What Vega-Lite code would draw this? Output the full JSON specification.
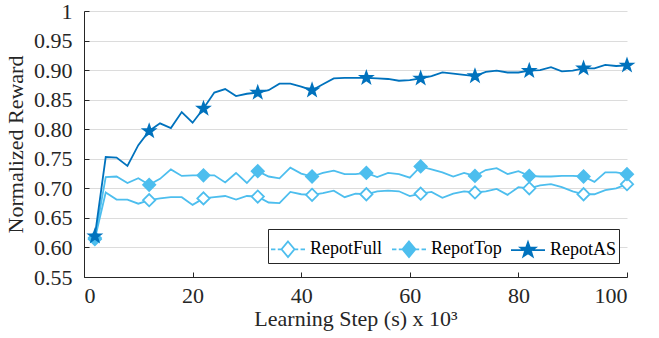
{
  "$schema": "https://vega.github.io/schema/vega-lite/v6.json",
  "width": 543,
  "height": 266,
  "autosize": "none",
  "padding": {"left": 84, "top": 11, "right": 32, "bottom": 61},
  "background": "white",
  "config": {
    "font": "Liberation Serif",
    "view": {"stroke": null},
    "axis": {
      "labelFont": "Liberation Serif",
      "titleFont": "Liberation Serif",
      "labelFontSize": 22,
      "titleFontSize": 22,
      "titleFontWeight": "normal",
      "labelColor": "#262626",
      "titleColor": "#262626",
      "domainColor": "#262626",
      "tickColor": "#262626",
      "domainWidth": 1,
      "tickWidth": 1
    }
  },
  "data": {
    "values": [
      {"x": 2, "RepotFull": 0.614, "RepotTop": 0.616, "RepotAS": 0.619},
      {"x": 4, "RepotFull": 0.693, "RepotTop": 0.719, "RepotAS": 0.753},
      {"x": 6, "RepotFull": 0.681, "RepotTop": 0.720, "RepotAS": 0.752},
      {"x": 8, "RepotFull": 0.681, "RepotTop": 0.709, "RepotAS": 0.738},
      {"x": 10, "RepotFull": 0.674, "RepotTop": 0.717, "RepotAS": 0.773},
      {"x": 12, "RepotFull": 0.680, "RepotTop": 0.706, "RepotAS": 0.797},
      {"x": 14, "RepotFull": 0.683, "RepotTop": 0.716, "RepotAS": 0.810},
      {"x": 16, "RepotFull": 0.685, "RepotTop": 0.732, "RepotAS": 0.802},
      {"x": 18, "RepotFull": 0.685, "RepotTop": 0.721, "RepotAS": 0.829},
      {"x": 20, "RepotFull": 0.672, "RepotTop": 0.722, "RepotAS": 0.811},
      {"x": 22, "RepotFull": 0.683, "RepotTop": 0.722, "RepotAS": 0.835},
      {"x": 24, "RepotFull": 0.685, "RepotTop": 0.722, "RepotAS": 0.862},
      {"x": 26, "RepotFull": 0.687, "RepotTop": 0.710, "RepotAS": 0.868},
      {"x": 28, "RepotFull": 0.681, "RepotTop": 0.726, "RepotAS": 0.856},
      {"x": 30, "RepotFull": 0.687, "RepotTop": 0.709, "RepotAS": 0.860},
      {"x": 32, "RepotFull": 0.686, "RepotTop": 0.729, "RepotAS": 0.862},
      {"x": 34, "RepotFull": 0.676, "RepotTop": 0.720, "RepotAS": 0.866},
      {"x": 36, "RepotFull": 0.675, "RepotTop": 0.717, "RepotAS": 0.877},
      {"x": 38, "RepotFull": 0.694, "RepotTop": 0.735, "RepotAS": 0.877},
      {"x": 40, "RepotFull": 0.690, "RepotTop": 0.725, "RepotAS": 0.872},
      {"x": 42, "RepotFull": 0.689, "RepotTop": 0.720, "RepotAS": 0.866},
      {"x": 44, "RepotFull": 0.692, "RepotTop": 0.726, "RepotAS": 0.876},
      {"x": 46, "RepotFull": 0.696, "RepotTop": 0.730, "RepotAS": 0.886},
      {"x": 48, "RepotFull": 0.685, "RepotTop": 0.724, "RepotAS": 0.887},
      {"x": 50, "RepotFull": 0.691, "RepotTop": 0.724, "RepotAS": 0.887},
      {"x": 52, "RepotFull": 0.690, "RepotTop": 0.726, "RepotAS": 0.887},
      {"x": 54, "RepotFull": 0.695, "RepotTop": 0.719, "RepotAS": 0.886},
      {"x": 56, "RepotFull": 0.696, "RepotTop": 0.726, "RepotAS": 0.885},
      {"x": 58, "RepotFull": 0.695, "RepotTop": 0.724, "RepotAS": 0.882},
      {"x": 60, "RepotFull": 0.687, "RepotTop": 0.718, "RepotAS": 0.883},
      {"x": 62, "RepotFull": 0.691, "RepotTop": 0.737, "RepotAS": 0.886},
      {"x": 64, "RepotFull": 0.694, "RepotTop": 0.732, "RepotAS": 0.890},
      {"x": 66, "RepotFull": 0.684, "RepotTop": 0.727, "RepotAS": 0.896},
      {"x": 68, "RepotFull": 0.691, "RepotTop": 0.720, "RepotAS": 0.894},
      {"x": 70, "RepotFull": 0.695, "RepotTop": 0.726, "RepotAS": 0.892},
      {"x": 72, "RepotFull": 0.693, "RepotTop": 0.721, "RepotAS": 0.890},
      {"x": 74, "RepotFull": 0.695, "RepotTop": 0.731, "RepotAS": 0.897},
      {"x": 76, "RepotFull": 0.699, "RepotTop": 0.734, "RepotAS": 0.899},
      {"x": 78, "RepotFull": 0.689, "RepotTop": 0.724, "RepotAS": 0.896},
      {"x": 80, "RepotFull": 0.702, "RepotTop": 0.729, "RepotAS": 0.896},
      {"x": 82, "RepotFull": 0.700, "RepotTop": 0.721, "RepotAS": 0.899},
      {"x": 84, "RepotFull": 0.705, "RepotTop": 0.720, "RepotAS": 0.900},
      {"x": 86, "RepotFull": 0.707, "RepotTop": 0.720, "RepotAS": 0.905},
      {"x": 88, "RepotFull": 0.702, "RepotTop": 0.721, "RepotAS": 0.898},
      {"x": 90, "RepotFull": 0.695, "RepotTop": 0.721, "RepotAS": 0.899},
      {"x": 92, "RepotFull": 0.690, "RepotTop": 0.720, "RepotAS": 0.903},
      {"x": 94, "RepotFull": 0.690, "RepotTop": 0.711, "RepotAS": 0.903},
      {"x": 96, "RepotFull": 0.697, "RepotTop": 0.727, "RepotAS": 0.909},
      {"x": 98, "RepotFull": 0.700, "RepotTop": 0.727, "RepotAS": 0.907},
      {"x": 100, "RepotFull": 0.707, "RepotTop": 0.724, "RepotAS": 0.908}
    ]
  },
  "transform": [
    {"fold": ["RepotFull", "RepotTop", "RepotAS"], "as": ["series", "reward"]}
  ],
  "encoding": {
    "x": {
      "field": "x",
      "type": "quantitative",
      "scale": {"domain": [0, 100], "nice": false},
      "axis": {
        "values": [0, 20, 40, 60, 80, 100],
        "grid": false,
        "tickSize": -5,
        "labelPadding": 13,
        "title": "Learning Step (s) x 10³",
        "titlePadding": 2
      }
    },
    "y": {
      "field": "reward",
      "type": "quantitative",
      "scale": {"domain": [0.55, 1], "nice": false, "zero": false},
      "axis": {
        "values": [0.55, 0.6, 0.65, 0.7, 0.75, 0.8, 0.85, 0.9, 0.95, 1],
        "labelExpr": "datum.value == 1 ? '1' : format(datum.value, '.2f')",
        "grid": true,
        "gridColor": "#dcdcdc",
        "gridWidth": 1,
        "tickSize": -5,
        "labelPadding": 17,
        "title": "Normalized Reward",
        "titlePadding": 6
      }
    }
  },
  "resolve": {
    "scale": {"stroke": "independent", "fill": "independent", "shape": "independent"}
  },
  "layer": [
    {
      "mark": {"type": "line", "strokeWidth": 1.8},
      "encoding": {
        "stroke": {
          "field": "series",
          "type": "nominal",
          "scale": {"domain": ["RepotFull", "RepotTop", "RepotAS"], "range": ["#4DBEEE", "#4DBEEE", "#0072BD"]},
          "legend": null
        }
      }
    },
    {
      "transform": [{"filter": "datum.x % 10 == 2 || datum.x == 100"}],
      "mark": {"type": "point", "strokeWidth": 1.8, "opacity": 1},
      "encoding": {
        "shape": {
          "field": "series",
          "type": "nominal",
          "scale": {"domain": ["RepotFull", "RepotTop", "RepotAS"], "range": ["diamond", "diamond", "M0,-1L0.235,-0.324L0.951,-0.309L0.38,0.124L0.588,0.809L0,0.4L-0.588,0.809L-0.38,0.124L-0.951,-0.309L-0.235,-0.324Z"]},
          "legend": null
        },
        "size": {
          "field": "series",
          "type": "nominal",
          "scale": {"domain": ["RepotFull", "RepotTop", "RepotAS"], "range": [150, 150, 220]},
          "legend": null
        },
        "stroke": {
          "field": "series",
          "type": "nominal",
          "scale": {"domain": ["RepotFull", "RepotTop", "RepotAS"], "range": ["#4DBEEE", "#4DBEEE", "#0072BD"]},
          "legend": null
        },
        "fill": {
          "field": "series",
          "type": "nominal",
          "scale": {"domain": ["RepotFull", "RepotTop", "RepotAS"], "range": ["#ffffff", "#4DBEEE", "#0072BD"]},
          "legend": null
        }
      }
    },
    {
      "transform": [{"filter": "false"}],
      "mark": {"type": "point", "strokeWidth": 1.8, "opacity": 1},
      "encoding": {
        "shape": {
          "field": "series",
          "type": "nominal",
          "scale": {"domain": ["RepotFull", "RepotTop", "RepotAS"], "range": [
            "M-1,0L-0.74,0M-0.6,0L-0.38,0M0.38,0L0.6,0M0.74,0L1,0M0,-0.46L0.38,0L0,0.46L-0.38,0Z",
            "M-1,0L-0.74,0M-0.6,0L-0.38,0M0.38,0L0.6,0M0.74,0L1,0M0,-0.46L0.38,0L0,0.46L-0.38,0Z",
            "M-1,0L-0.3,0M0.3,0L1,0M0,-0.46L0.108,-0.149L0.437,-0.142L0.175,0.057L0.27,0.372L0,0.184L-0.27,0.372L-0.175,0.057L-0.437,-0.142L-0.108,-0.149Z"
          ]},
          "legend": {
            "title": null,
            "orient": "none",
            "legendX": 184,
            "legendY": 218,
            "direction": "horizontal",
            "strokeColor": "#262626",
            "fillColor": "white",
            "padding": 2,
            "labelFont": "Liberation Serif",
            "labelFontSize": 18,
            "labelColor": "#000000",
            "symbolSize": 1156,
            "symbolStrokeWidth": 1.8,
            "columnPadding": 5,
            "labelOffset": 4
          }
        },
        "stroke": {
          "field": "series",
          "type": "nominal",
          "scale": {"domain": ["RepotFull", "RepotTop", "RepotAS"], "range": ["#4DBEEE", "#4DBEEE", "#0072BD"]}
        },
        "fill": {
          "field": "series",
          "type": "nominal",
          "scale": {"domain": ["RepotFull", "RepotTop", "RepotAS"], "range": ["#ffffff", "#4DBEEE", "#0072BD"]}
        }
      }
    }
  ]
}
